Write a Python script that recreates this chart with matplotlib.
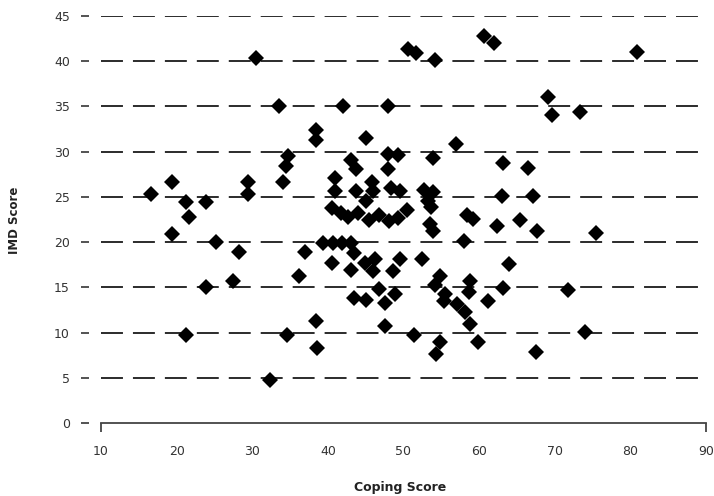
import matplotlib.pyplot as plt

plt.rcParams['font.family'] = ['DejaVu Sans']
plt.rcParams['lines.scale_dashes'] = False

# coping score vs IMD score
coping = [16.6, 19.4, 19.4, 21.2, 21.7, 21.2, 23.9, 23.9, 25.2, 27.4,
          28.3, 29.4, 29.4, 30.5, 32.4, 33.5, 34.0, 34.5, 34.7, 34.6,
          36.2, 37.0, 38.4, 38.4, 38.4, 38.6,
          39.4, 40.7, 41.9, 43.1, 43.4, 40.6, 43.1, 43.4, 41.0, 41.0,
          42.0, 43.1, 43.7, 43.7,
          40.6, 41.8, 42.6, 44.0, 45.4, 46.8, 48.1, 49.3, 50.4, 45.1,
          45.0, 45.9, 46.0, 47.9, 49.3, 47.9, 48.3, 49.5, 52.7, 53.9,
          53.2, 53.7, 53.9, 53.5, 53.9, 44.9, 46.2, 46.0, 48.6, 49.5,
          52.5, 46.7, 45.0, 47.5, 48.9, 47.5, 51.4, 54.8, 54.2, 55.5,
          55.3, 54.8, 54.3, 50.6, 51.6, 54.2, 48.0,
          57.0, 58.0, 58.4, 59.2, 58.8, 58.6, 57.1, 58.1, 58.8, 59.9,
          61.2, 60.6, 62.0, 62.4, 63.0, 63.2, 63.1, 63.9, 65.4, 66.5,
          67.1, 67.6, 67.5, 69.1, 69.6, 71.8, 73.4, 74.0, 75.5, 80.9]
imd = [25.3, 26.6, 20.9, 24.4, 22.8, 9.7, 24.4, 15.0, 20.0, 15.7,
       18.9, 26.6, 25.3, 40.4, 4.8, 35.1, 26.6, 28.45, 29.5, 9.7,
       16.2, 18.9, 32.4, 31.3, 11.3, 8.3,
       19.9, 19.9, 19.9, 19.9, 18.8, 17.7, 16.9, 13.8, 27.1, 25.7,
       35.1, 29.1, 28.1, 25.7,
       23.8, 23.2, 22.8, 23.2, 22.5, 23.0, 22.3, 22.7, 23.5, 24.5,
       31.5, 26.7, 25.6, 29.7, 29.6, 28.1, 26.0, 25.7, 25.8, 25.5,
       24.5, 23.9, 29.3, 22.0, 21.2, 17.7, 18.1, 16.8, 16.8, 18.1,
       18.1, 14.8, 13.6, 13.3, 14.3, 10.7, 9.7, 16.2, 15.3, 14.3,
       13.5, 9.0, 7.6, 41.4, 40.9, 40.1, 35.1,
       30.9, 20.1, 23.0, 22.6, 15.7, 14.5, 13.2, 12.3, 11.0, 9.0,
       13.5, 42.8, 42.0, 21.8, 25.1, 28.7, 14.9, 17.6, 22.5, 28.2,
       25.1, 21.2, 7.8, 36.0, 34.05, 14.7, 34.4, 10.1, 21.0, 41.0]

x_ticks = [10, 20, 30, 40, 50, 60, 70, 80, 90]
y_ticks = [0, 5, 10, 15, 20, 25, 30, 35, 40, 45]

fig = plt.figure(figsize=(7.14, 4.96), dpi=100)
ax = fig.add_axes([101/714, 1 - 423/496, 605/714, 407/496])

# dashed horizontal guide lines
for v in y_ticks[1:]:
    ax.axhline(v, color='#1a1a1a', lw=1.3, linestyle=(0, (15.8, 7.2)), zorder=1)

ax.plot(coping, imd, 'D', color='black', ms=8.2, mew=0, zorder=3)

ax.set_xlim(10, 90)
ax.set_ylim(0, 45)
ax.set_xticks(x_ticks)
ax.set_yticks(y_ticks)

for s in ['top', 'right']:
    ax.spines[s].set_visible(False)
ax.spines['left'].set_position(('outward', 8.6))
ax.spines['left'].set_color('none')
ax.spines['bottom'].set_color('#444444')
ax.spines['bottom'].set_linewidth(1.3)

ax.tick_params(axis='x', length=6.5, width=1.3, color='#444444', direction='out',
               pad=9, labelsize=9, labelcolor='#333333')
ax.tick_params(axis='y', length=5.8, width=1.3, color='#444444', pad=8,
               labelsize=9, labelcolor='#333333')

# only the two end ticks on the x axis keep their mark
for t in ax.xaxis.get_major_ticks()[1:-1]:
    t.tick1line.set_visible(False)

fig.text(14/714, 1 - 220/496, 'IMD Score', rotation=90, ha='center', va='center',
         fontsize=8.5, fontweight='bold', color='#222222')
fig.text(400/714, 1 - 487/496, 'Coping Score', ha='center', va='center',
         fontsize=9, fontweight='bold', color='#222222')

fig.savefig('out.png', dpi=100)
